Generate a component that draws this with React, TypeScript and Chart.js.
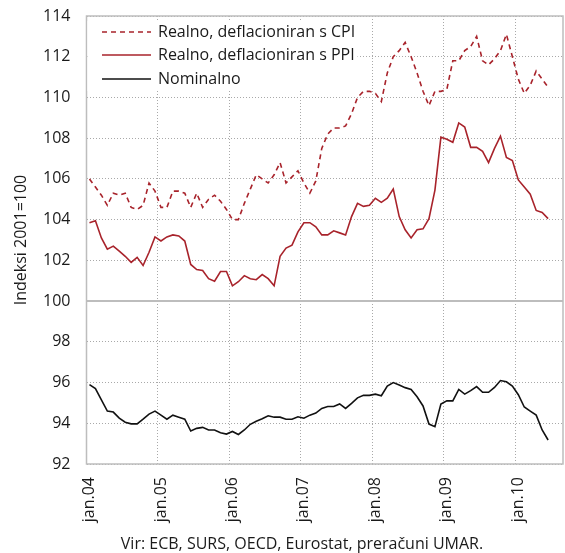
import React, { useEffect, useRef } from "react";
import { Chart, registerables } from "chart.js";

Chart.register(...registerables);

const years = ["04", "05", "06", "07", "08", "09", "10"];
const monthNames = ["jan", "feb", "mar", "apr", "maj", "jun", "jul", "avg", "sep", "okt", "nov", "dec"];
const categories: string[] = [];
for (const y of years) {
  for (const m of monthNames) {
    if (categories.length < 80) categories.push(`${m}.${y}`);
  }
}

const seriesLabels = ["Realno, deflacioniran s CPI", "Realno, deflacioniran s PPI", "Nominalno"];

const cpi = [
  106.0, 105.6, 105.2, 104.7, 105.3, 105.2, 105.3, 104.6, 104.5, 104.7, 105.8, 105.4,
  104.6, 104.6, 105.4, 105.4, 105.3, 104.6, 105.3, 104.6, 105.0, 105.2, 104.9, 104.5,
  104.0, 104.0, 104.8, 105.5, 106.2, 106.0, 105.8, 106.2, 106.8, 105.8, 106.1, 106.4,
  105.8, 105.3, 105.9, 107.5, 108.2, 108.5, 108.5, 108.6, 109.2, 110.0, 110.3, 110.3,
  110.2, 109.8, 111.2, 112.0, 112.3, 112.7, 112.0, 111.2, 110.3, 109.6, 110.3, 110.3,
  110.4, 111.8, 111.8, 112.3, 112.5, 113.0, 111.8, 111.6, 111.9, 112.3, 113.1, 112.0,
  110.9, 110.2, 110.6, 111.3, 110.9, 110.5,
];

const ppi = [
  103.85, 103.95, 103.1, 102.55, 102.7, 102.45, 102.2, 101.9, 102.15, 101.75, 102.4, 103.15,
  102.95, 103.15, 103.25, 103.2, 102.95, 101.8, 101.55, 101.5, 101.1, 100.98, 101.45, 101.45,
  100.75, 100.95, 101.25, 101.1, 101.05, 101.3, 101.1, 100.75, 102.2, 102.6, 102.75, 103.4,
  103.85, 103.85, 103.65, 103.25, 103.25, 103.45, 103.35, 103.25, 104.15, 104.8, 104.65, 104.7,
  105.05, 104.85, 105.05, 105.5, 104.15, 103.5, 103.1, 103.5, 103.55, 104.05, 105.45, 108.05,
  107.95, 107.8, 108.75, 108.55, 107.55, 107.55, 107.35, 106.8, 107.5, 108.1, 107.05, 106.9,
  105.95, 105.6, 105.25, 104.45, 104.35, 104.05,
];

const nominal = [
  95.9, 95.7, 95.15, 94.6, 94.55, 94.25, 94.05, 93.97, 93.97, 94.2, 94.45, 94.6,
  94.4, 94.2, 94.4, 94.3, 94.2, 93.62, 93.75, 93.8, 93.67, 93.67, 93.53, 93.47,
  93.6, 93.45, 93.67, 93.95, 94.1, 94.22, 94.37, 94.3, 94.3, 94.2, 94.2, 94.32,
  94.25, 94.4, 94.5, 94.73, 94.82, 94.82, 94.95, 94.73, 94.98, 95.25, 95.37, 95.37,
  95.43, 95.35, 95.83, 96.0, 95.88, 95.75, 95.66, 95.3, 94.85, 93.96, 93.83, 94.95,
  95.1, 95.1, 95.66, 95.43, 95.6, 95.8, 95.52, 95.52, 95.76, 96.1, 96.04, 95.83,
  95.4, 94.8, 94.6, 94.4, 93.67, 93.18,
];

const yMin = 92;
const yMax = 114;
const yStep = 2;
const baseLine = 100;
const yTitle = "Indeksi 2001=100";
const sourceText = "Vir: ECB, SURS, OECD, Eurostat, preračuni UMAR.";

const RED = "#a8232b";
const BLACK = "#111111";
const GRID = "#a9a9a9";
const FRAME = "#bdbdbd";
const TEXT = "#1a1a1a";
const FONT = "'Open Sans', 'Noto Sans', sans-serif";

const decorPlugin = {
  id: "decor",
  beforeDatasetsDraw(chart: any) {
    const { ctx, chartArea } = chart;
    const y = chart.scales.y.getPixelForValue(baseLine);
    ctx.save();
    ctx.strokeStyle = FRAME;
    ctx.lineWidth = 2;
    ctx.beginPath();
    ctx.moveTo(chartArea.left, y);
    ctx.lineTo(chartArea.right, y);
    ctx.stroke();
    ctx.lineWidth = 1.5;
    ctx.strokeRect(chartArea.left, chartArea.top, chartArea.right - chartArea.left, chartArea.bottom - chartArea.top);
    // legend background
    ctx.fillStyle = "#ffffff";
    ctx.fillRect(chartArea.left + 1, 21, 270, 70);
    ctx.restore();
  },
  afterDraw(chart: any) {
    const { ctx } = chart;
    ctx.save();
    const rows = [32, 55, 79];
    chart.data.datasets.forEach((ds: any, i: number) => {
      const y = rows[i];
      ctx.strokeStyle = ds.borderColor;
      ctx.lineWidth = 1.6;
      ctx.setLineDash(ds.borderDash || []);
      ctx.beginPath();
      ctx.moveTo(102, y);
      ctx.lineTo(151, y);
      ctx.stroke();
      ctx.setLineDash([]);
      ctx.fillStyle = TEXT;
      ctx.font = `16px ${FONT}`;
      ctx.textAlign = "left";
      ctx.textBaseline = "middle";
      ctx.fillText(ds.label, 158, y);
    });
    ctx.font = `16px ${FONT}`;
    ctx.textAlign = "center";
    ctx.textBaseline = "middle";
    ctx.fillStyle = TEXT;
    ctx.fillText(sourceText, 302, 544);
    ctx.restore();
  },
};

export default function App() {
  const ref = useRef<HTMLCanvasElement | null>(null);

  useEffect(() => {
    if (!ref.current) return;
    const chart = new Chart(ref.current, {
      type: "line",
      data: {
        labels: categories,
        datasets: [
          { label: seriesLabels[0], data: cpi, borderColor: RED, borderWidth: 1.6, borderDash: [5, 4], pointRadius: 0, tension: 0, fill: false },
          { label: seriesLabels[1], data: ppi, borderColor: RED, borderWidth: 1.6, pointRadius: 0, tension: 0, fill: false },
          { label: seriesLabels[2], data: nominal, borderColor: BLACK, borderWidth: 1.6, pointRadius: 0, tension: 0, fill: false },
        ],
      },
      options: {
        responsive: false,
        animation: false,
        devicePixelRatio: 1,
        layout: { padding: { left: 0, right: 2, top: 16, bottom: 0 } },
        plugins: { legend: { display: false }, tooltip: { enabled: false } },
        scales: {
          x: {
            type: "category",
            offset: true,
            grid: {
              offset: true,
              drawTicks: false,
              lineWidth: 1,
              color: (c: any) => (typeof c.index === "number" && c.index % 12 === 0 ? GRID : "rgba(0,0,0,0)"),
            },
            border: { display: false, dash: [1, 2] },
            ticks: {
              autoSkip: false,
              maxRotation: 90,
              minRotation: 90,
              padding: 13,
              color: TEXT,
              font: { family: FONT, size: 16 },
              callback: (_v: any, i: number) => (i % 12 === 0 ? categories[i] : ""),
            },
            afterFit: (s: any) => {
              s.height = 89;
              s.paddingLeft = 0;
              s.paddingRight = 0;
            },
          },
          y: {
            min: yMin,
            max: yMax,
            ticks: { stepSize: yStep, padding: 16, color: TEXT, font: { family: FONT, size: 16 } },
            grid: { drawTicks: false, color: GRID, lineWidth: 1 },
            border: { display: false, dash: [1, 2] },
            title: { display: true, text: yTitle, color: TEXT, font: { family: FONT, size: 16 }, padding: { top: 12, bottom: 0 } },
            afterFit: (s: any) => {
              s.width = 86.5;
              s.paddingTop = 0;
              s.paddingBottom = 0;
            },
          },
        },
      },
      plugins: [decorPlugin],
    } as any);
    return () => chart.destroy();
  }, []);

  return (
    <div style={{ position: "fixed", left: 0, top: 0, width: 565, height: 553, background: "#fff" }}>
      <canvas ref={ref} width={565} height={553} style={{ width: 565, height: 553, display: "block" }} />
    </div>
  );
}
